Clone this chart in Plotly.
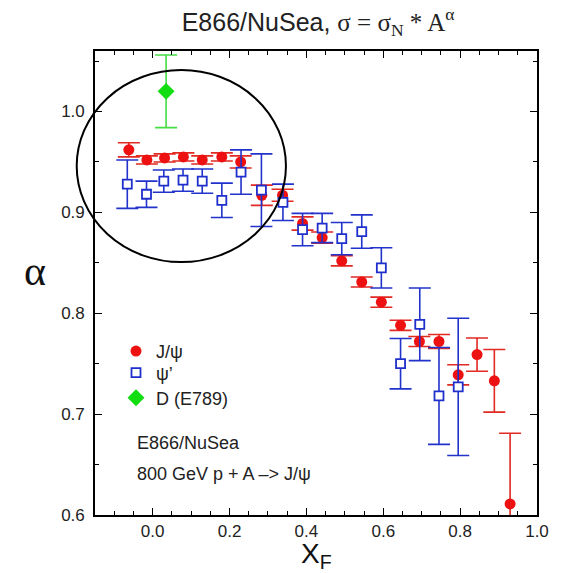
import plotly.graph_objects as go

# J/psi (red)
jpsi_x = [-0.062, -0.015, 0.031, 0.080, 0.129, 0.180, 0.229, 0.284, 0.338, 0.390, 0.441,
          0.492, 0.544, 0.595, 0.645, 0.694, 0.745, 0.795, 0.844, 0.889, 0.930]
jpsi_y = [0.962, 0.952, 0.954, 0.955, 0.952, 0.955, 0.950, 0.917, 0.917, 0.889, 0.875,
          0.852, 0.831, 0.811, 0.788, 0.772, 0.772, 0.739, 0.759, 0.733, 0.611]
jpsi_err = [0.007, 0.004, 0.004, 0.004, 0.004, 0.004, 0.006, 0.010, 0.006, 0.0066, 0.0055,
            0.005, 0.005, 0.005, 0.005, 0.005, 0.007, 0.010, 0.0165, 0.031, 0.070]

# psi' (blue open squares)
psip_x = [-0.066, -0.016, 0.029, 0.079, 0.129, 0.180, 0.230, 0.283, 0.339, 0.390, 0.441,
          0.492, 0.544, 0.595, 0.645, 0.695, 0.745, 0.795]
psip_y = [0.928, 0.918, 0.931, 0.932, 0.931, 0.912, 0.940, 0.922, 0.910, 0.883, 0.8845,
          0.874, 0.881, 0.845, 0.750, 0.789, 0.718, 0.727]
psip_err = [0.024, 0.013, 0.011, 0.011, 0.012, 0.017, 0.022, 0.036, 0.018, 0.016, 0.0145,
            0.016, 0.0165, 0.020, 0.025, 0.036, 0.048, 0.068]

# D (E789) green diamond
d_x = [0.035]
d_y = [1.020]
d_err = [0.036]

x_range = [-0.15, 1.0]
y_range = [0.6, 1.06]

FONT = "Liberation Sans, Arial, sans-serif"
SERIF = "Liberation Serif, Times New Roman, serif"

fig = go.Figure()
fig.add_trace(go.Scatter(
    x=jpsi_x, y=jpsi_y, mode="markers", name="J/ψ", legend="legend",
    marker=dict(symbol="circle", size=11, color="#ee1111"),
    error_y=dict(type="data", array=jpsi_err, visible=True, color="#e02a22",
                 thickness=1.6, width=11),
))
fig.add_trace(go.Scatter(
    x=psip_x, y=psip_y, mode="markers", name="ψ’", legend="legend2",
    marker=dict(symbol="square", size=9, color="white",
                line=dict(color="#1f2fcc", width=1.8)),
    error_y=dict(type="data", array=psip_err, visible=True, color="#2233cc",
                 thickness=1.6, width=11),
))
fig.add_trace(go.Scatter(
    x=d_x, y=d_y, mode="markers", name="D (E789)", legend="legend3",
    marker=dict(symbol="diamond", size=13, color="#11dd11"),
    error_y=dict(type="data", array=d_err, visible=True, color="#44dd44",
                 thickness=1.6, width=11),
))

axis_common = dict(
    showline=True, linecolor="black", linewidth=1.6, mirror="allticks",
    ticks="inside", ticklen=7, tickwidth=1.2, tickcolor="black",
    showgrid=False, zeroline=False,
    tickfont=dict(family=FONT, size=17, color="#222"),
)

fig.update_xaxes(range=x_range, dtick=0.2, tick0=0, tickformat=".1f",
                 minor=dict(dtick=0.05, tick0=0, ticks="inside", ticklen=4,
                            tickcolor="black", tickwidth=1),
                 **axis_common)
fig.update_yaxes(range=y_range, dtick=0.1, tick0=0.6, tickformat=".1f",
                 ticklabelstandoff=5,
                 minor=dict(dtick=0.05, tick0=0.6, ticks="inside", ticklen=4,
                            tickcolor="black", tickwidth=1),
                 **axis_common)

fig.add_shape(type="circle", xref="paper", yref="paper",
              x0=-0.0414, x1=0.432, y0=0.545, y1=0.959,
              line=dict(color="black", width=2), layer="above")

fig.add_annotation(text="E866/NuSea", xref="paper", yref="paper",
                   x=0.0905, y=0.1555, xanchor="left", yanchor="middle",
                   showarrow=False, font=dict(family=FONT, size=18, color="#222"))
fig.add_annotation(text="800 GeV p + A –> J/ψ", xref="paper", yref="paper",
                   x=0.0905, y=0.0886, xanchor="left", yanchor="middle",
                   showarrow=False, font=dict(family=FONT, size=18, color="#222"))

fig.add_annotation(text="α", xref="paper", yref="paper",
                   x=-0.136, y=0.525, xanchor="center", yanchor="middle",
                   showarrow=False, font=dict(family=SERIF, size=42, color="#111"))
fig.add_annotation(text="X<sub>F</sub>", xref="paper", yref="paper",
                   x=0.5, y=-0.087, xanchor="center", yanchor="middle",
                   showarrow=False, font=dict(family=FONT, size=28, color="#111"))

leg_common = dict(xanchor="left", yanchor="middle", bgcolor="rgba(0,0,0,0)",
                  borderwidth=0, font=dict(family=FONT, size=18, color="#222"))

title_text = ("E866/NuSea, <span style='font-family:Liberation Serif'>σ = σ<sub>N</sub>"
              " * A<sup>α</sup></span>")

fig.update_layout(
    width=571, height=573,
    margin=dict(l=95, r=34, t=51, b=58),
    paper_bgcolor="white", plot_bgcolor="white",
    title=dict(text=title_text,
               x=0.557, xanchor="center", xref="container",
               y=0.962, yanchor="middle", yref="container",
               font=dict(family=FONT, size=25, color="#222")),
    showlegend=True,
    legend=dict(x=0.0475, y=0.3527, **leg_common),
    legend2=dict(x=0.0475, y=0.3060, **leg_common),
    legend3=dict(x=0.0475, y=0.2521, **leg_common),
)

fig.write_html("out.html")
